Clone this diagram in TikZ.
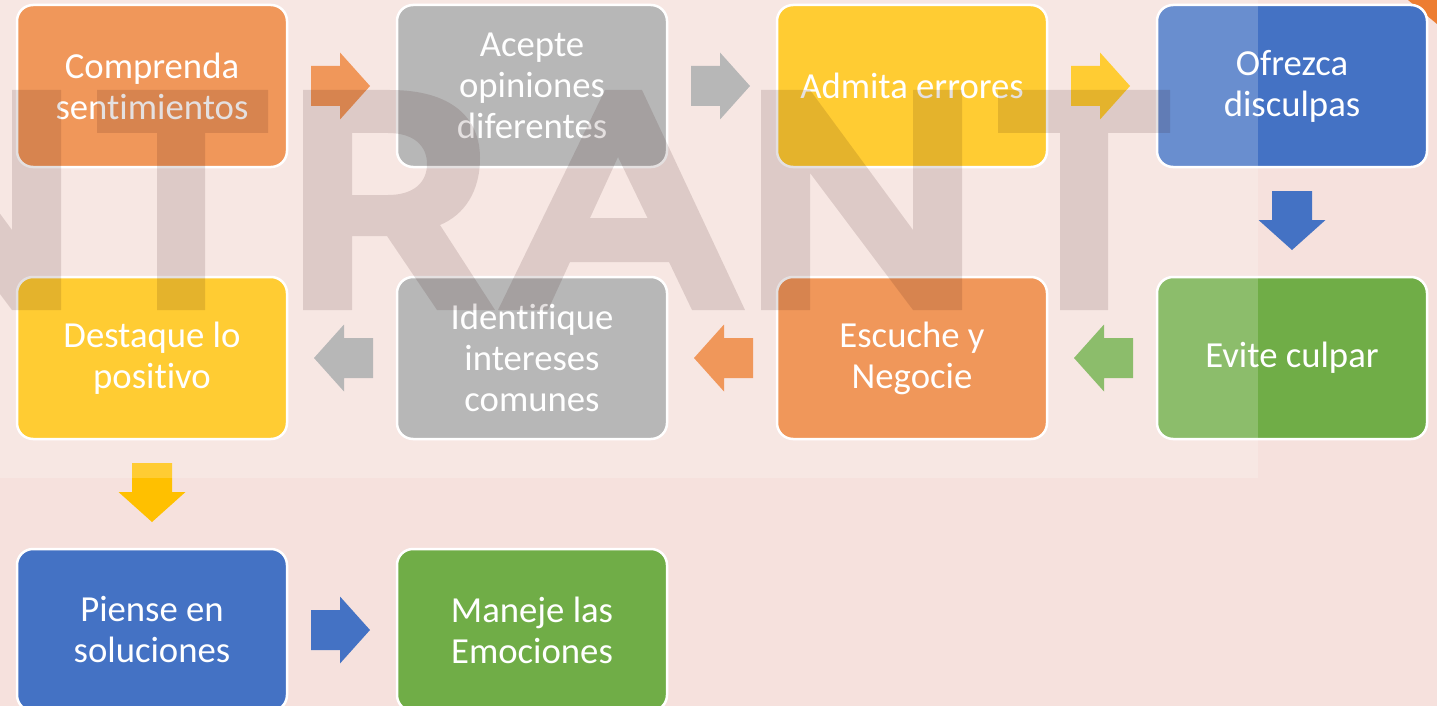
\documentclass[tikz,border=0pt]{standalone}
\usepackage{fontspec}
\setmainfont[Ligatures=NoCommon]{Carlito}
\usetikzlibrary{calc}
\definecolor{bgc}{RGB}{246,225,221}
\definecolor{corange}{HTML}{ED7D31}
\definecolor{cgray}{HTML}{A5A5A5}
\definecolor{cyellow}{HTML}{FFC000}
\definecolor{cblue}{HTML}{4472C4}
\definecolor{cgreen}{HTML}{70AD47}
\definecolor{wmc}{RGB}{40,0,0}
\tikzset{
  box/.style={rectangle, rounded corners=16pt, draw=white, line width=2.5pt,
    minimum width=270pt, minimum height=162pt, inner sep=0pt,
    align=center, text=white, font=\fontsize{36.7}{41}\selectfont},
  veil/.style={fill=white, opacity=0.2},
  watermark/.style={fill=wmc, opacity=0.12, even odd rule},
}
\newcommand\flowarrow[4]{\fill[#3, shift={($(#1)!0.5!(#2)$)}, rotate=#4]
  (-31,-20) -- (-2,-20) -- (-2,-33.5) -- (28,0) -- (-2,33.5) -- (-2,20) -- (-31,20) -- cycle;}
\begin{document}
\begin{tikzpicture}[x=1pt,y=-1pt]
\useasboundingbox (0,0) rectangle (1437,706);
\fill[bgc] (0,0) rectangle (1437,706);
\fill[corange] (1408,0) -- (1437,0) -- (1437,24) -- cycle;
% boxes
\node[box, fill=corange] (b1) at (152,86) {Comprenda\\sentimientos};
\node[box, fill=cgray] (b2) at (532,86) {Acepte\\opiniones\\diferentes};
\node[box, fill=cyellow] (b3) at (912,86) {Admita errores};
\node[box, fill=cblue] (b4) at (1292,86) {Ofrezca\\disculpas};
\node[box, fill=cgreen] (b5) at (1292,358) {Evite culpar};
\node[box, fill=corange] (b6) at (912,358) {Escuche y\\Negocie};
\node[box, fill=cgray] (b7) at (532,358) {Identifique\\intereses\\comunes};
\node[box, fill=cyellow] (b8) at (152,358) {Destaque lo\\positivo};
\node[box, fill=cblue] (b9) at (152,630) {Piense en\\soluciones};
\node[box, fill=cgreen] (b10) at (532,630) {Maneje las\\Emociones};
% arrows
\flowarrow{b1.east}{b2.west}{corange}{0}
\flowarrow{b2.east}{b3.west}{cgray}{0}
\flowarrow{b3.east}{b4.west}{cyellow}{0}
\flowarrow{b4.south}{b5.north}{cblue}{-90}
\flowarrow{b5.west}{b6.east}{cgreen}{180}
\flowarrow{b6.west}{b7.east}{corange}{180}
\flowarrow{b7.west}{b8.east}{cgray}{180}
\flowarrow{b8.south}{b9.north}{cyellow}{-90}
\flowarrow{b9.east}{b10.west}{cblue}{0}
% light veil
\fill[veil] (0,0) rectangle (1258,478);
% watermark letters
\begin{scope}
\clip (0,0) rectangle (1437,706);
\fill[watermark]
  (-140,90) -- (-91,90) -- (12,230) -- (12,90) -- (61,90) -- (61,310) -- (12,310) -- (-91,173) -- (-91,310) -- (-140,310) -- cycle
  (97,90) -- (268,90) -- (268,133) -- (205,133) -- (205,310) -- (157,310) -- (157,133) -- (97,133) -- cycle
  (303,90) -- (390,90) .. controls (452,90) and (480,118) .. (480,158) .. controls (480,192) and (464,215) .. (440,225) -- (495,310) -- (437,310) -- (387,236) -- (352,236) -- (352,310) -- (303,310) -- cycle
  (352,133) -- (388,133) .. controls (414,133) and (427,146) .. (427,164) .. controls (427,183) and (413,195) .. (388,195) -- (352,195) -- cycle
  (605,90) -- (642,90) -- (745,310) -- (692,310) -- (669,262) -- (570,262) -- (548,310) -- (498,310) -- cycle
  (618,157) -- (647.5,218) -- (590,218) -- cycle
  (761,90) -- (810,90) -- (913,230) -- (913,90) -- (962,90) -- (962,310) -- (913,310) -- (810,173) -- (810,310) -- (761,310) -- cycle
  (998,90) -- (1170,90) -- (1170,133) -- (1108,133) -- (1108,310) -- (1060,310) -- (1060,133) -- (998,133) -- cycle;
\end{scope}
\end{tikzpicture}
\end{document}
